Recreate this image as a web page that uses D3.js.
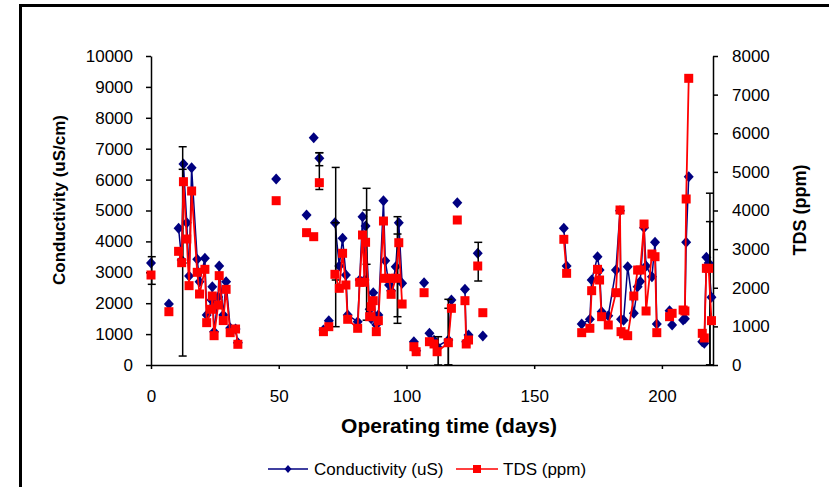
<!DOCTYPE html>
<html lang="en">
<head>
<meta charset="utf-8">
<title>Conductivity and TDS vs operating time</title>
<script src="https://cdn.jsdelivr.net/npm/d3@7"></script>
<style>
body { margin: 0; background: #fff; }
svg { font-family: "Liberation Sans", Arial, sans-serif; }
.axis path, .axis line { stroke: #000; stroke-width: 1.5; fill: none; }
.axis text { font-size: 17px; fill: #000; }
.title { font-weight: bold; fill: #000; }
.legend_labels { font-size: 17px; fill: #000; }
</style>
</head>
<body>
<script>
// operating day of each sample, null = gap in the plotted line
var days = [0, null, 7, null,
  10.8, 12.0, 12.7, 14.0, 14.9, 15.9, 18.1, 19.0, 21.1, 21.8, 23.7, 24.0, 24.7, 26.3, 26.7, 28.3, 29.4, 31.0, 33.1, 34.0, null,
  49, null, 60.9, null, 63.7, null, 65.9, null, 67.5, 69.6, null,
  72.0, 73.7, 75.0, 76.3, 77.0, 80.9, 81.7, 82.8, 83.6, 84.0, 85.6, 86.2, 87.0, 88.2, 89.0, 91.0, 91.7, 93.2, 94.0, 95.8, 97.0, 98.3, null,
  102.9, 103.8, null, 106.9, null, 109.0, 110.8, 112.0, 116.4, 117.6, null, 119.9, null, 122.9, 123.4, 124.3, null, 127.9, null, 129.9, null,
  161.6, 162.7, null,
  168.6, 171.8, 172.5, 174.8, 175.6, 176.4, 179.0, 182.0, 183.6, 184.0, 185.0, 186.6, 189.0, 190.5, 191.5, 193.0, 193.8, 196.1, 197.3, 198.0, null,
  203.0, 204.0, null, 208.3, 209.0, 209.5, 210.5, null, 215.8, 216.6, 217.4, 218.3, 219.4];

// conductivity (uS/cm)
var conductivity = [3300, null, 1975, null,
  4424, 3400, 6504, 4605, 2880, 6385, 3420, 2696, 3452, 1618, 2100, 2535, 1078, 2200, 3204, 1618, 2696, 1200, 1165, 722, null,
  6019, null, 4854, null, 7356, null, 6688, null, 1133, 1434, null,
  4605, 3204, 4100, 2912, 1618, 1401, 2750, 4800, 2750, 4498, 1802, 1500, 2340, 1300, 1618, 5317, 3376, 2589, 2400, 3182, 4605, 2643, null,
  754, 463, null, 2663, null, 1025, 800, 600, 809, 2103, null, 5252, null, 2450, 754, 971, null, 3614, null, 938, null,
  4424, 3204, null,
  1327, 1479, 2751, 3504, 3074, 1725, 1596, 3074, 4993, 1479, 1450, 3182, 1673, 2535, 2700, 4443, 3204, 2857, 3970, 1327, null,
  1757, 1294, null, 1456, 1500, 3970, 6093, null, 754, 700, 3485, 3300, 2190];

// TDS (ppm)
var tds = [2330, null, 1380, null,
  2943, 2649, 4746, 3262, 2054, 4505, 2400, 1838, 2477, 1096, 1442, 1786, 759, 1553, 2313, 1150, 1959, 837, 932, 536, null,
  4254, null, 3426, null, 3322, null, 4720, null, 863, 992, null,
  2348, 1985, 2892, 2071, 1183, 950, 2141, 3366, 2141, 3177, 1251, 1510, 1665, 863, 1148, 3728, 2245, 2245, 1830, 2245, 3166, 1579, null,
  474, 344, null, 1872, null, 603, 544, 344, 577, 1468, null, 3754, null, 1665, 544, 647, null, 2563, null, 1354, null,
  3254, 2374, null,
  837, 950, 1924, 2477, 2200, 1251, 1036, 1872, 4013, 863, 803, 759, 1786, 2459, 2459, 3650, 1398, 2874, 2804, 837, null,
  1251, 1338, null, 1424, 1398, 4298, 7422, null, 820, 700, 2503, 2503, 1148];

// error bars, in conductivity units
var errDays = [0.3, 12.4, 12.4, 65.9, 65.9, 72.3, 72.3, 84.4, 84.4, 96.5, 96.5, 112.4, 116.4, 116.4, 128.1, 218.8, 218.8];
var errLow  = [2611, 290, 3300, 5680, 6450, 1240, 2751, 1450, 3259, 1349, 1563, 0, 0, 0, 2718, 0, 0];
var errHigh = [3505, 7064, 6333, 6870, 6870, 6394, 4605, 5718, 5016, 4800, 4239, 916, 2126, 1835, 3970, 5560, 4640];

var xTicks = [0, 50, 100, 150, 200];
var yLeftTicks = [0, 1000, 2000, 3000, 4000, 5000, 6000, 7000, 8000, 9000, 10000];
var yRightTicks = [0, 1000, 2000, 3000, 4000, 5000, 6000, 7000, 8000];

var W = 829, H = 487;
var plot = {left: 151, right: 713, top: 56, bottom: 365};

var rows = days.map(function(d, i) {
  return {day: d, cond: conductivity[i], tds: tds[i]};
});
var pts = rows.filter(function(d) { return d.day != null; });

var svg = d3.select("body").append("svg")
  .attr("width", W)
  .attr("height", H);

// outer frame (continues past the picture edge)
svg.append("rect")
  .attr("x", 20.5).attr("y", 5.5)
  .attr("width", 1000).attr("height", 1000)
  .attr("fill", "none")
  .attr("stroke", "#000")
  .attr("stroke-width", 3);

var x = d3.scaleLinear().domain([0, 220]).range([plot.left, plot.right]);
var yL = d3.scaleLinear().domain([0, 10000]).range([plot.bottom, plot.top]);
var yR = d3.scaleLinear().domain([0, 8000]).range([plot.bottom, plot.top]);
var fmt = d3.format("d");

svg.append("g")
  .attr("class", "axis")
  .attr("transform", "translate(0," + plot.bottom + ")")
  .call(d3.axisBottom(x).tickValues(xTicks).tickFormat(fmt).tickSize(4).tickPadding(21).tickSizeOuter(0));

svg.append("g")
  .attr("class", "axis")
  .attr("transform", "translate(" + plot.left + ",0)")
  .call(d3.axisLeft(yL).tickValues(yLeftTicks).tickFormat(fmt).tickSize(5).tickPadding(13).tickSizeOuter(0));

svg.append("g")
  .attr("class", "axis")
  .attr("transform", "translate(" + plot.right + ",0)")
  .call(d3.axisRight(yR).tickValues(yRightTicks).tickFormat(fmt).tickSize(5).tickPadding(14).tickSizeOuter(0));

// conductivity series
var condLine = d3.line()
  .defined(function(d) { return d.day != null; })
  .x(function(d) { return x(d.day); })
  .y(function(d) { return yL(d.cond); });

svg.append("path")
  .datum(rows)
  .attr("d", condLine)
  .attr("fill", "none")
  .attr("stroke", "#000080")
  .attr("stroke-width", 1.5);

svg.selectAll(".diamond")
  .data(pts)
  .enter()
  .append("path")
  .attr("class", "diamond")
  .attr("d", "M0,-5.5L5,0L0,5.5L-5,0Z")
  .attr("transform", function(d) { return "translate(" + x(d.day) + "," + yL(d.cond) + ")"; })
  .attr("fill", "#000080");

// error bars
var errs = errDays.map(function(d, i) { return {day: d, lo: errLow[i], hi: errHigh[i]}; });
var eb = svg.append("g").attr("stroke", "#000").attr("stroke-width", 1.5);
errs.forEach(function(e) {
  var ex = x(e.day);
  eb.append("line").attr("x1", ex).attr("x2", ex).attr("y1", yL(e.lo)).attr("y2", yL(e.hi));
  eb.append("line").attr("x1", ex - 4).attr("x2", ex + 4).attr("y1", yL(e.lo)).attr("y2", yL(e.lo));
  eb.append("line").attr("x1", ex - 4).attr("x2", ex + 4).attr("y1", yL(e.hi)).attr("y2", yL(e.hi));
});

// TDS series
var tdsLine = d3.line()
  .defined(function(d) { return d.day != null; })
  .x(function(d) { return x(d.day); })
  .y(function(d) { return yR(d.tds); });

svg.append("path")
  .datum(rows)
  .attr("d", tdsLine)
  .attr("fill", "none")
  .attr("stroke", "#ff0000")
  .attr("stroke-width", 1.8);

svg.selectAll(".square")
  .data(pts)
  .enter()
  .append("rect")
  .attr("class", "square")
  .attr("x", function(d) { return x(d.day) - 4.5; })
  .attr("y", function(d) { return yR(d.tds) - 4.5; })
  .attr("width", 9)
  .attr("height", 9)
  .attr("fill", "#ff0000");

// axis titles
svg.append("text")
  .attr("class", "title")
  .attr("x", 449).attr("y", 433)
  .attr("text-anchor", "middle")
  .style("font-size", "21px")
  .text("Operating time (days)");

svg.append("text")
  .attr("class", "title")
  .attr("transform", "translate(65,200) rotate(-90)")
  .attr("text-anchor", "middle")
  .style("font-size", "17px")
  .text("Conductivity (uS/cm)");

svg.append("text")
  .attr("class", "title")
  .attr("transform", "translate(806,210) rotate(-90)")
  .attr("text-anchor", "middle")
  .style("font-size", "18px")
  .text("TDS (ppm)");

// legend
var leg = svg.append("g");
leg.append("line").attr("x1", 268).attr("x2", 308).attr("y1", 469).attr("y2", 469)
  .attr("stroke", "#000080").attr("stroke-width", 1.5);
leg.append("path").attr("d", "M0,-4L3.5,0L0,4L-3.5,0Z")
  .attr("transform", "translate(288,469)").attr("fill", "#000080");
leg.append("text").attr("class", "legend_labels").attr("x", 314).attr("y", 475)
  .text("Conductivity (uS)");
leg.append("line").attr("x1", 456).attr("x2", 498).attr("y1", 469).attr("y2", 469)
  .attr("stroke", "#ff0000").attr("stroke-width", 1.5);
leg.append("rect").attr("x", 473).attr("y", 465).attr("width", 8).attr("height", 8)
  .attr("fill", "#ff0000");
leg.append("text").attr("class", "legend_labels").attr("x", 503).attr("y", 475)
  .text("TDS (ppm)");
</script>
</body>
</html>
